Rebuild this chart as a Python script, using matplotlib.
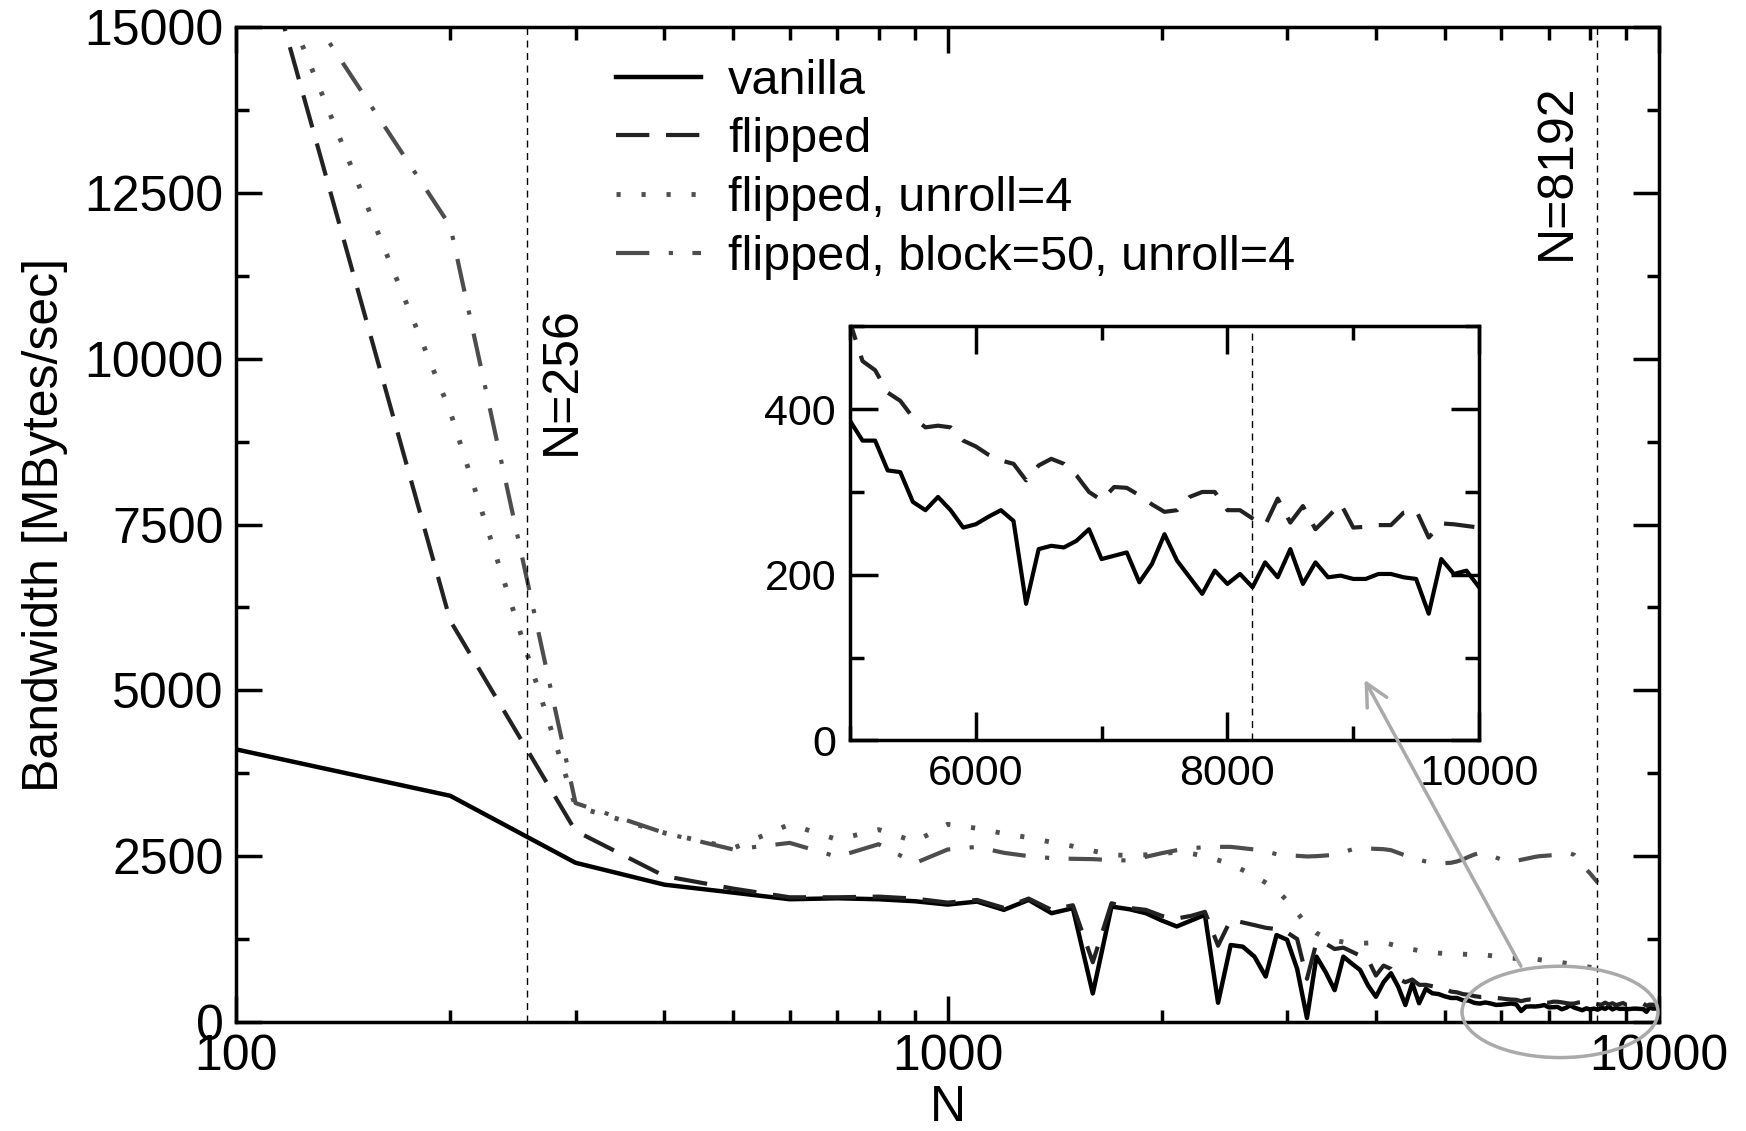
import matplotlib.pyplot as plt
from matplotlib.patches import Ellipse, FancyArrowPatch
from matplotlib.ticker import NullFormatter

plt.rcParams['font.family'] = ['Liberation Sans', 'DejaVu Sans']
plt.rcParams['lines.scale_dashes'] = False

# problem size, sampled every 100
N = list(range(100, 10001, 100))

vanilla = [4110, 3410, 2400, 2070, 1950, 1850, 1865, 1850, 1820, 1770,
           1815, 1690, 1840, 1640, 1715, 430, 1740, 1700, 1640, 1530,
           1440, 1530, 1615, 290, 1160, 1135, 985, 685, 1310, 1240,
           800, 60, 985, 750, 480, 985, 880, 785, 550, 380,
           600, 735, 530, 256, 584, 282, 500, 433, 420, 386,
           362, 362, 326, 324, 288, 278, 294, 278, 257, 261,
           270, 278, 265, 165, 231, 235, 233, 241, 255, 219,
           223, 227, 191, 213, 249, 217, 197, 177, 205, 189,
           201, 185, 215, 197, 231, 189, 215, 197, 199, 195,
           195, 201, 201, 197, 195, 153, 219, 201, 205, 185]

flipped = [17600, 6050, 2880, 2200, 2010, 1880, 1880, 1890, 1860, 1800,
           1840, 1720, 1860, 1690, 1760, 900, 1790, 1720, 1690, 1600,
           1560, 1600, 1660, 1150, 1540, 1500, 1460, 1420, 1400, 1350,
           1250, 650, 1200, 1180, 1100, 1120, 1060, 1000, 940, 700,
           850, 800, 650, 600, 640, 560, 560, 540, 520, 505,
           458, 447, 420, 410, 390, 378, 380, 378, 362, 355,
           345, 338, 334, 314, 332, 340, 334, 320, 300, 290,
           306, 305, 296, 285, 276, 278, 294, 300, 300, 278,
           278, 268, 260, 292, 263, 283, 255, 270, 286, 257,
           258, 260, 260, 275, 278, 245, 262, 261, 259, 257]

# the two unrolled variants stop at N=8200
N_unroll = N[:82]

unroll = [17200, 9200, 3250, 2850, 2620, 2980, 2750, 2900, 2720, 2980,
          2920, 2840, 2780, 2710, 2650, 2580, 2520, 2510, 2520, 2540,
          2560, 2540, 2500, 2440, 2380, 2290, 2200, 2100, 1990, 1830,
          1650, 1460, 1340, 1270, 1230, 1205, 1190, 1187, 1190, 1195,
          1197, 1170, 1140, 1115, 1095, 1075, 1060, 1046, 1038, 1033,
          1029, 1026, 1022, 1018, 1015, 1012, 1010, 1000, 990, 980,
          970, 961, 958, 955, 952, 949, 946, 938, 929, 920,
          912, 903, 895, 885, 875, 865, 855, 845, 835, 825,
          812, 800]

block = [16900, 12000, 3300, 2850, 2600, 2700, 2490, 2680, 2395, 2600,
         2640, 2550, 2500, 2470, 2460, 2455, 2440, 2435, 2490, 2545,
         2590, 2620, 2635, 2640, 2640, 2620, 2600, 2570, 2530, 2515,
         2505, 2495, 2500, 2510, 2520, 2560, 2600, 2620, 2615, 2610,
         2605, 2590, 2550, 2510, 2470, 2445, 2420, 2400, 2395, 2395,
         2400, 2420, 2450, 2490, 2525, 2545, 2540, 2515, 2480, 2450,
         2430, 2420, 2430, 2445, 2460, 2475, 2490, 2500, 2505, 2510,
         2515, 2520, 2525, 2530, 2540, 2520, 2450, 2370, 2300, 2240,
         2170, 2100]

fig = plt.figure(figsize=(17.46, 11.31), dpi=100)
ax = fig.add_axes([0.1352, 0.0964, 0.815, 0.8797])

ax.plot(N, vanilla, color='black', lw=3.2, label='vanilla')
ax.plot(N, flipped, color='#222222', lw=3, dashes=(24, 12), label='flipped')
ax.plot(N_unroll, unroll, color='#505050', lw=3.5, dashes=(3, 15),
        label='flipped, unroll=4')
ax.plot(N_unroll, block, color='#4d4d4d', lw=3, dashes=(24, 14, 3, 14),
        label='flipped, block=50, unroll=4')
ax.axvline(256, color='black', lw=1, dashes=(5, 4))
ax.axvline(8192, color='black', lw=1, dashes=(5, 4))

ax.set_xscale('log')
ax.set_xlim(100, 10000)
ax.set_ylim(0, 15000)
ax.set_xticks([100, 1000, 10000], labels=['100', '1000', '10000'])
ax.xaxis.set_minor_formatter(NullFormatter())
ax.set_yticks(range(0, 15001, 2500))
ax.set_yticks(range(0, 15001, 1250), minor=True)
ax.tick_params(which='both', direction='in', top=True, right=True,
               width=2.5, labelsize=36, pad=9)
ax.tick_params(which='major', length=19)
ax.tick_params(which='minor', length=9)
for s in ax.spines.values():
    s.set_linewidth(2.5)

ax.set_xlabel('N', fontsize=36, labelpad=3)
ax.set_ylabel('Bandwidth [MBytes/sec]', fontsize=36, labelpad=12)

ax.text(287, 9673, 'N=256', rotation=90, ha='center', va='center', fontsize=36)
ax.text(7190, 12817, 'N=8192', rotation=90, ha='center', va='center', fontsize=36)

ax.legend(loc='upper left', bbox_to_anchor=(0.267, 0.968), frameon=False,
          fontsize=35, handlelength=1.75, handletextpad=0.55,
          labelspacing=0.28, borderpad=0, borderaxespad=0)

# zoom marker: ellipse round the tail of the curves
ell = Ellipse((0.9304, 0.0101), 0.1377, 0.0918, transform=ax.transAxes,
              fill=False, edgecolor='#aaaaaa', lw=2.5, clip_on=False, zorder=5)
ax.add_patch(ell)

# inset
axin = fig.add_axes([0.4868, 0.3453, 0.3603, 0.3662])
axin.plot(N, vanilla, color='black', lw=3)
axin.plot(N, flipped, color='#222222', lw=3, dashes=(22, 12))
axin.axvline(8192, color='black', lw=1, dashes=(5, 4))
axin.set_xlim(5000, 10000)
axin.set_ylim(0, 500)
axin.set_xticks([6000, 8000, 10000])
axin.set_xticks([5000, 7000, 9000], minor=True)
axin.set_yticks([0, 200, 400])
axin.set_yticks([100, 300, 500], minor=True)
axin.tick_params(which='both', direction='in', top=True, right=True,
                 width=2.5, labelsize=31, pad=10)
axin.tick_params(which='major', length=20)
axin.tick_params(which='minor', length=10)
for s in axin.spines.values():
    s.set_linewidth(2.5)

# arrow from the ellipse into the inset, drawn above both axes
arrow = FancyArrowPatch((0.8711, 0.1457), (0.7815, 0.3990),
                        transform=fig.transFigure, arrowstyle='->',
                        color='#aaaaaa', lw=2.5, mutation_scale=40,
                        shrinkA=0, shrinkB=0, zorder=10)
fig.add_artist(arrow)

plt.savefig('out.png', dpi=100)
